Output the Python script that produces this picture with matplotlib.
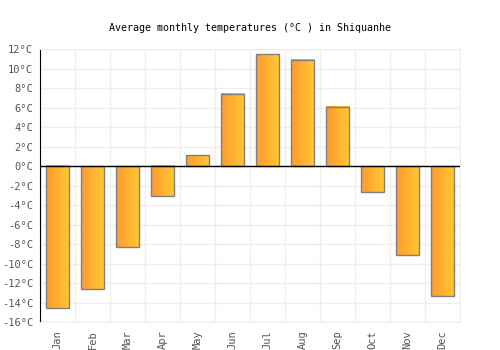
import numpy as np
import matplotlib
matplotlib.use("Agg")
import matplotlib.pyplot as plt
from matplotlib.colors import LinearSegmentedColormap

months = ["Jan", "Feb", "Mar", "Apr", "May", "Jun", "Jul", "Aug", "Sep", "Oct", "Nov", "Dec"]
temps = [-14.6, -12.6, -8.3, -3.1, 1.1, 7.4, 11.5, 10.9, 6.1, -2.6, -9.1, -13.3]
yticks = list(range(-16, 13, 2))

plt.rcParams['font.family'] = ['DejaVu Sans Mono']

fig = plt.figure(figsize=(5, 3.5), dpi=100)
ax = fig.add_axes([0.08, 0.08, 0.84, 0.779])

x = np.arange(len(months))
bw = 0.667
bars = ax.bar(x, temps, width=bw, color="none", edgecolor="#808080", linewidth=1, zorder=3)

# left-to-right orange gradient inside each bar
cmap = LinearSegmentedColormap.from_list("og", ["#ff9a2e", "#ffc933"])
grad = np.linspace(0, 1, 64).reshape(1, -1)
for b in bars:
    x0 = b.get_x()
    y0 = b.get_y()
    h = b.get_height()
    ax.imshow(grad, cmap=cmap, aspect="auto", extent=[x0, x0 + bw, y0, y0 + h],
              origin="lower", zorder=2)

ax.axhline(0, color="black", linewidth=1, zorder=4)

ax.set_xlim(-0.5, 11.5)
ax.set_ylim(-16, 12)
ax.set_yticks(yticks)
ax.set_yticklabels([f"{t}°C" for t in yticks])
ax.set_xticks(x)
ax.set_xticklabels(months, rotation=90)
ax.set_xticks(np.arange(-0.5, 12, 1), minor=True)

ax.grid(False)
ax.grid(True, which="minor", axis="x", color="#eeeeee", linewidth=1, zorder=0)
ax.grid(True, which="major", axis="y", color="#eeeeee", linewidth=1, zorder=0)

ax.tick_params(axis="both", which="both", length=0, labelsize=7.5, labelcolor="#555555")
ax.tick_params(axis="y", pad=5)
ax.tick_params(axis="x", pad=6)

for s in ["top", "right", "bottom"]:
    ax.spines[s].set_color("#eeeeee")
ax.spines["left"].set_color("black")

fig.suptitle("Average monthly temperatures (°C ) in Shiquanhe", y=0.935, fontsize=7.2)

fig.savefig("out.png", dpi=100)
